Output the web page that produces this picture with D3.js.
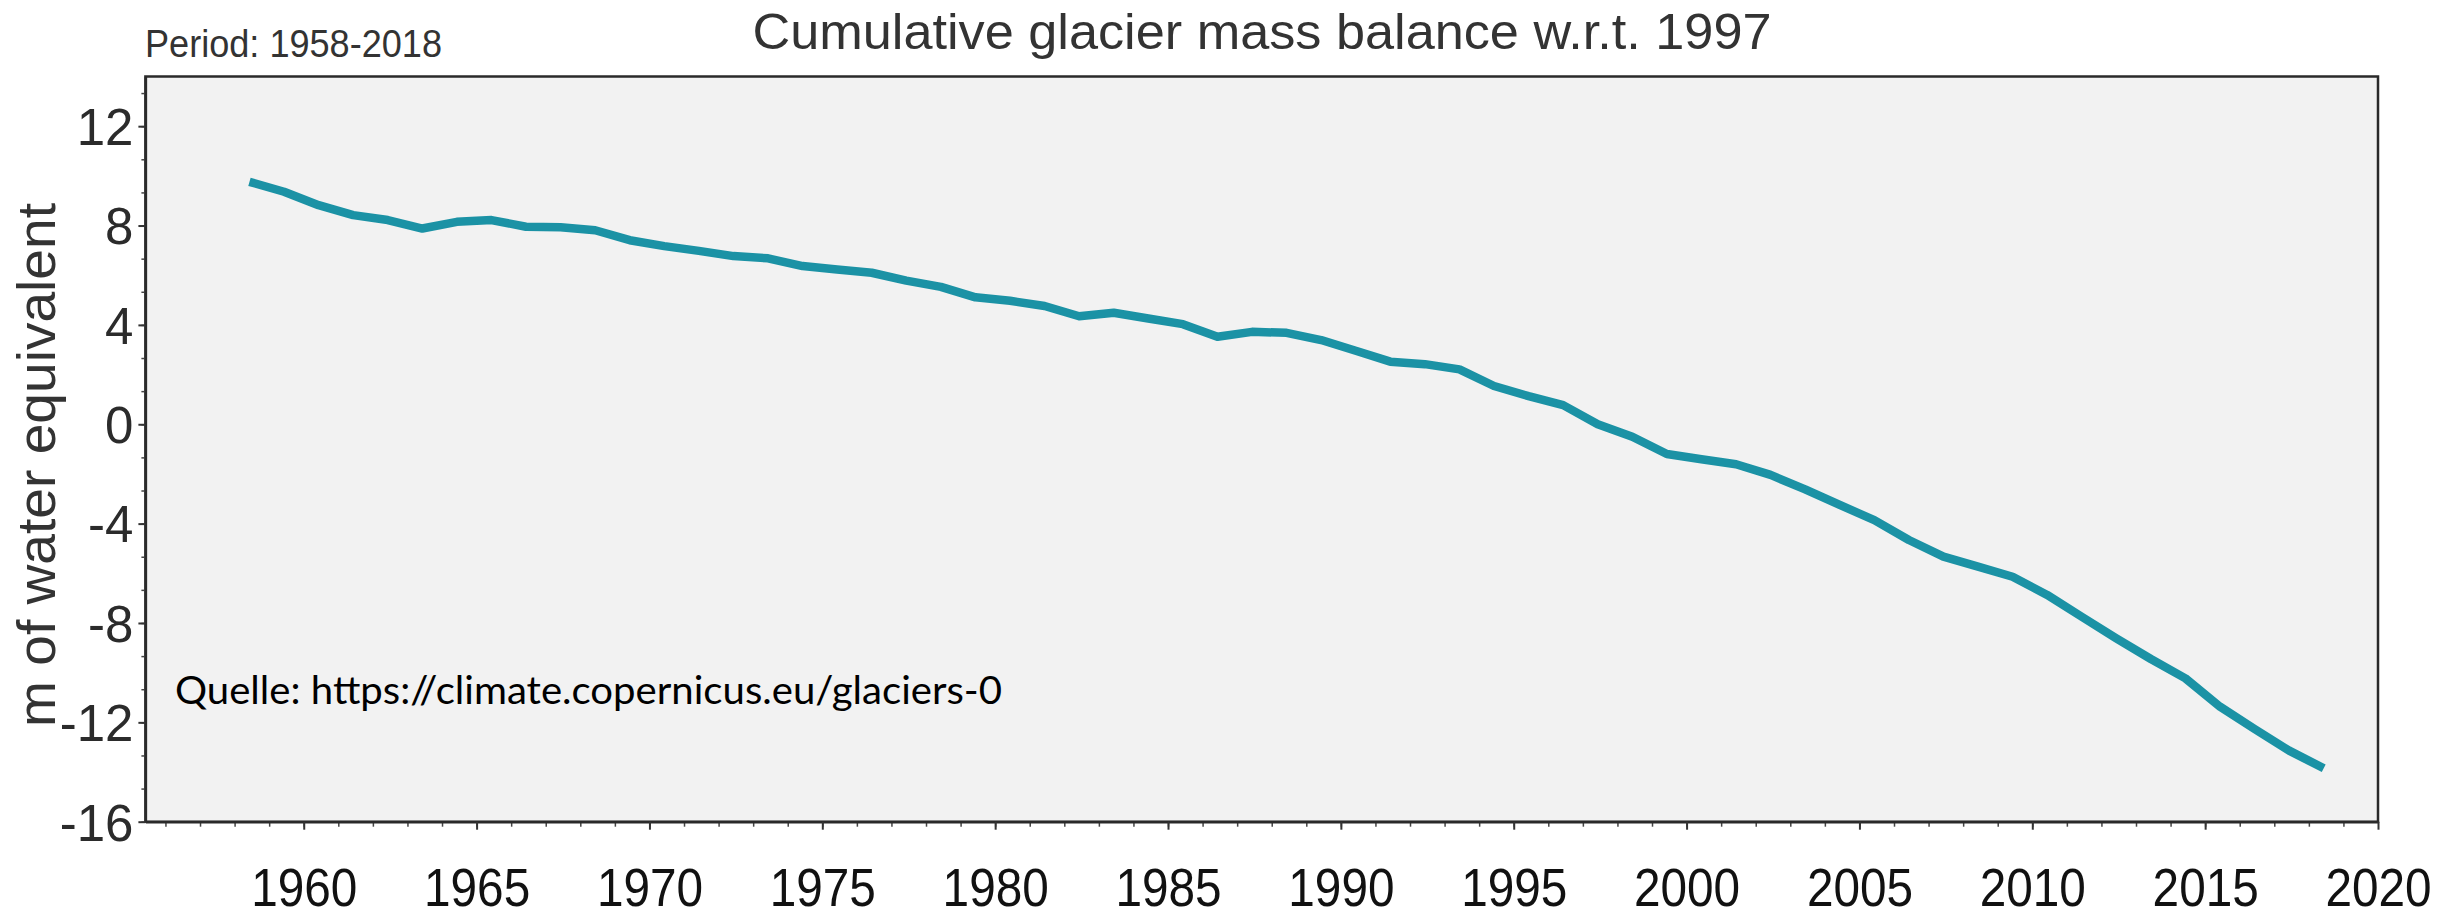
<!DOCTYPE html>
<html>
<head>
<meta charset="utf-8">
<script src="https://cdn.jsdelivr.net/npm/d3@7"></script>
<style>
  html, body { margin: 0; padding: 0; background: #ffffff; }
  svg { display: block; }
</style>
</head>
<body>
<svg id="chart" width="2453" height="917"></svg>
<script>
// ---- data ----
const years = [
  1958, 1959, 1960, 1961, 1962, 1963, 1964, 1965, 1966, 1967,
  1968, 1969, 1970, 1971, 1972, 1973, 1974, 1975, 1976, 1977,
  1978, 1979, 1980, 1981, 1982, 1983, 1984, 1985, 1986, 1987,
  1988, 1989, 1990, 1991, 1992, 1993, 1994, 1995, 1996, 1997,
  1998, 1999, 2000, 2001, 2002, 2003, 2004, 2005, 2006, 2007,
  2008, 2009, 2010, 2011, 2012, 2013, 2014, 2015, 2016, 2017, 2018
];
const massBalance = [
  9.76, 9.36, 8.82, 8.42, 8.22, 7.88, 8.15, 8.22, 7.95, 7.93,
  7.81, 7.41, 7.17, 6.98, 6.77, 6.68, 6.37, 6.23, 6.10, 5.78,
  5.53, 5.11, 4.97, 4.76, 4.35, 4.49, 4.26, 4.03, 3.52, 3.72,
  3.68, 3.39, 2.96, 2.52, 2.42, 2.21, 1.54, 1.13, 0.77, 0.00,
  -0.50, -1.20, -1.41, -1.61, -2.04, -2.62, -3.25, -3.86, -4.66, -5.33,
  -5.73, -6.14, -6.87, -7.75, -8.62, -9.45, -10.23, -11.37, -12.27, -13.14, -13.85
];
const xTickLabels = [1960, 1965, 1970, 1975, 1980, 1985, 1990, 1995, 2000, 2005, 2010, 2015, 2020];
const yTickLabels = [12, 8, 4, 0, -4, -8, -12, -16];
const xMinorTicks = d3.range(1956, 2020, 1);
const yMinorTicks = d3.range(-16, 14, 4 / 3);
const titleText = "Cumulative glacier mass balance w.r.t. 1997";
const periodText = "Period: 1958-2018";
const yLabelText = "m of water equivalent";
const sourceText = "Quelle: https://climate.copernicus.eu/glaciers-0";

// ---- layout ----
const plot = { left: 145.4, right: 2378, top: 76.5, bottom: 821.7 };
const xDomain = [1955.42, 2020];
const yDomain = [-16, 14];
const pointOffset = 0.43; // values plotted slightly after the year mark

const svg = d3.select("#chart");

const x = d3.scaleLinear().domain(xDomain).range([plot.left, plot.right]);
const y = d3.scaleLinear().domain(yDomain).range([plot.bottom, plot.top]);

// plot background + frame
svg.append("rect")
  .attr("x", plot.left).attr("y", plot.top)
  .attr("width", plot.right - plot.left).attr("height", plot.bottom - plot.top)
  .attr("fill", "#f2f2f2")
  .attr("stroke", "#2a2a2a").attr("stroke-width", 2.5);

// line
const data = years.map((yr, i) => ({ year: yr, value: massBalance[i] }));
svg.append("path")
  .datum(data)
  .attr("fill", "none")
  .attr("stroke", "#1b92a5")
  .attr("stroke-width", 8.5)
  .attr("stroke-linejoin", "round")
  .attr("stroke-linecap", "butt")
  .attr("d", d3.line().x(d => x(d.year + pointOffset)).y(d => y(d.value)));

// minor ticks
svg.append("g")
  .attr("transform", `translate(0,${plot.bottom})`)
  .call(d3.axisBottom(x).tickValues(xMinorTicks).tickSize(5).tickSizeOuter(0).tickFormat(""))
  .call(g => g.select(".domain").remove())
  .selectAll("line").attr("stroke", "#444").attr("stroke-width", 1.5);

svg.append("g")
  .attr("transform", `translate(${plot.left},0)`)
  .call(d3.axisLeft(y).tickValues(yMinorTicks).tickSize(4).tickSizeOuter(0).tickFormat(""))
  .call(g => g.select(".domain").remove())
  .selectAll("line").attr("stroke", "#444").attr("stroke-width", 1.5);

// x axis major
const xAxisG = svg.append("g")
  .attr("transform", `translate(0,${plot.bottom})`)
  .call(d3.axisBottom(x).tickValues(xTickLabels).tickSize(8).tickSizeOuter(0).tickFormat(d => String(d)));
xAxisG.select(".domain").attr("stroke", "#2a2a2a").attr("stroke-width", 2.5);
xAxisG.selectAll(".tick line").attr("stroke", "#333").attr("stroke-width", 2);
xAxisG.selectAll(".tick text")
  .attr("y", 84).attr("dy", 0)
  .attr("fill", "#111")
  .style("font-family", "'Liberation Sans', Arial, sans-serif")
  .style("font-size", "53px")
  .each(function () {
    const w = this.getComputedTextLength();
    d3.select(this).attr("textLength", w * 0.9).attr("lengthAdjust", "spacingAndGlyphs");
  });

// y axis major
const yAxisG = svg.append("g")
  .attr("transform", `translate(${plot.left},0)`)
  .call(d3.axisLeft(y).tickValues(yTickLabels).tickSize(7).tickSizeOuter(0).tickPadding(5).tickFormat(d => String(d)));
yAxisG.select(".domain").attr("stroke", "#2a2a2a").attr("stroke-width", 2.5);
yAxisG.selectAll(".tick line").attr("stroke", "#333").attr("stroke-width", 2);
yAxisG.selectAll(".tick text")
  .attr("fill", "#2b2b2b")
  .attr("dy", "0.36em")
  .style("font-family", "'Liberation Sans', Arial, sans-serif")
  .style("font-size", "51px");

// title
svg.append("text")
  .attr("x", 752.5).attr("y", 49)
  .attr("fill", "#333")
  .attr("textLength", 1019).attr("lengthAdjust", "spacingAndGlyphs")
  .style("font-family", "'Liberation Sans', Arial, sans-serif")
  .style("font-size", "50px")
  .text(titleText);

// period
svg.append("text")
  .attr("x", 145).attr("y", 56.7)
  .attr("fill", "#333")
  .attr("textLength", 297).attr("lengthAdjust", "spacingAndGlyphs")
  .style("font-family", "'Liberation Sans', Arial, sans-serif")
  .style("font-size", "38px")
  .text(periodText);

// y axis label
svg.append("text")
  .attr("transform", "translate(55,465) rotate(-90)")
  .attr("text-anchor", "middle")
  .attr("fill", "#333")
  .attr("textLength", 524).attr("lengthAdjust", "spacingAndGlyphs")
  .style("font-family", "'Liberation Sans', Arial, sans-serif")
  .style("font-size", "54px")
  .text(yLabelText);

// source note
svg.append("text")
  .attr("x", 175).attr("y", 704)
  .attr("fill", "#000")
  .attr("textLength", 827).attr("lengthAdjust", "spacingAndGlyphs")
  .style("font-family", "Lato, 'Open Sans', sans-serif")
  .style("font-size", "38px")
  .text(sourceText);
</script>
</body>
</html>
